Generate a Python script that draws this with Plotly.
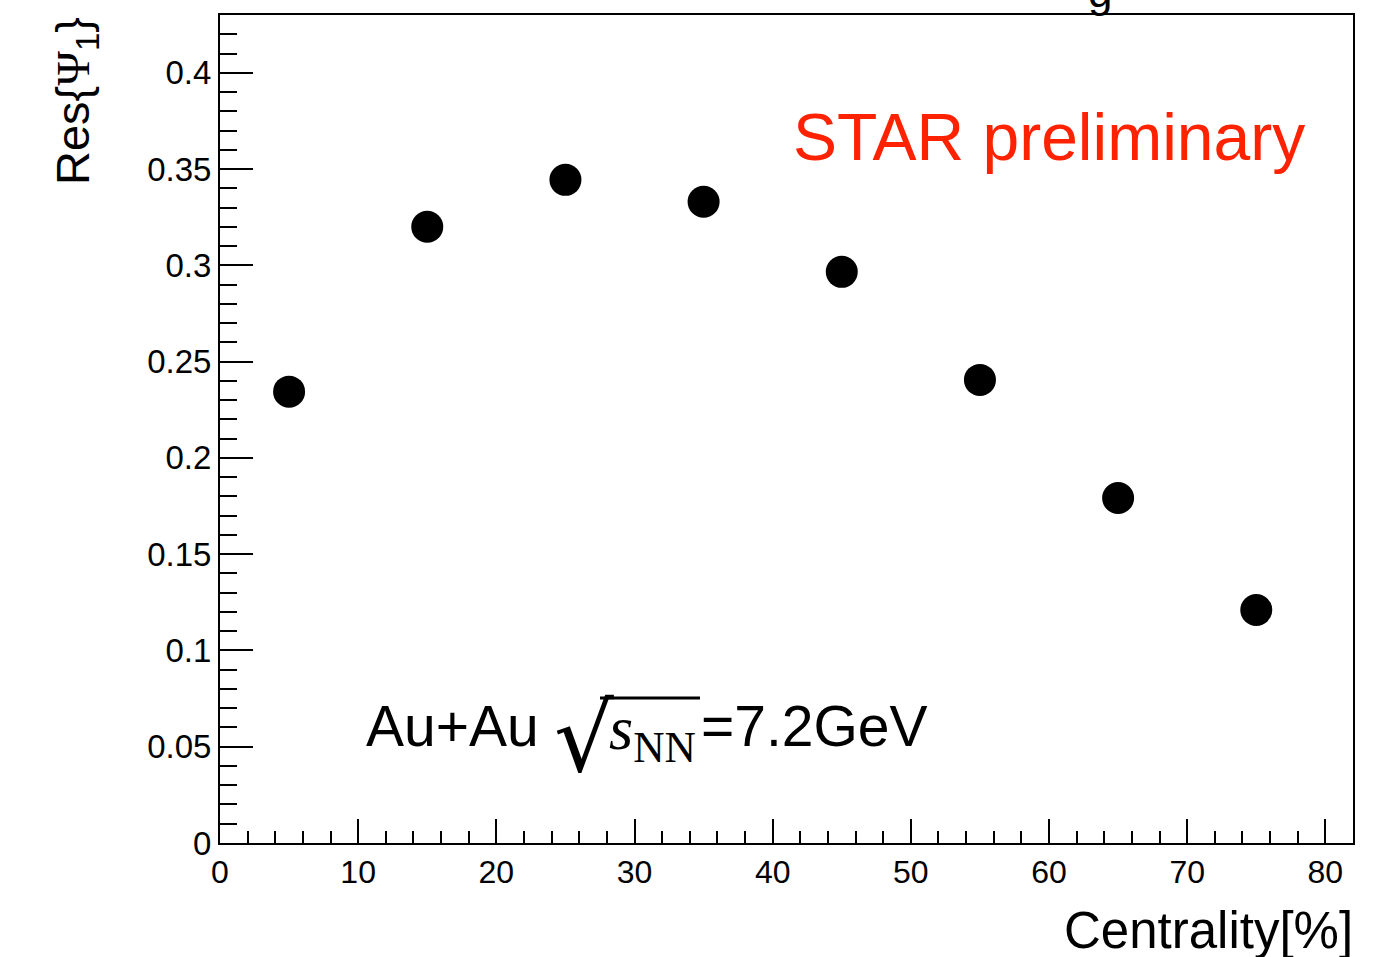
import plotly.graph_objects as go

centrality = [5, 15, 25, 35, 45, 55, 65, 75]
resolution = [0.2344, 0.3200, 0.3444, 0.3330, 0.2966, 0.2405, 0.1792, 0.1210]

W, H = 1384, 957
L, R, T, B = 220, 31, 15, 114
PW, PH = W - L - R, H - T - B

def px(x):
    return (x - L) / PW

def py(y):
    return (H - B - y) / PH

fig = go.Figure()
fig.add_trace(go.Scatter(
    x=centrality, y=resolution, mode="markers",
    marker=dict(color="black", size=32, line=dict(width=0)),
    showlegend=False, cliponaxis=False,
))

font = "Liberation Sans, Arial, Helvetica, sans-serif"
serif = "Liberation Serif, Times New Roman, serif"

fig.update_layout(
    width=W, height=H,
    margin=dict(l=L, r=R, t=T, b=B, pad=0),
    paper_bgcolor="white", plot_bgcolor="white",
    font=dict(family=font, color="black"),
    xaxis=dict(
        range=[0, 82], showgrid=False, zeroline=False,
        showline=True, linecolor="black", linewidth=2, mirror=True,
        ticks="inside", ticklen=24, tickwidth=2, tickcolor="black",
        dtick=10, tick0=0, tickfont=dict(size=32, family=font),
        minor=dict(ticks="inside", ticklen=12, tickwidth=2, tickcolor="black", dtick=2, tick0=0),
    ),
    yaxis=dict(
        range=[0, 0.43], showgrid=False, zeroline=False,
        showline=True, linecolor="black", linewidth=2, mirror=True,
        ticks="inside", ticklen=33, tickwidth=2, tickcolor="black",
        tickfont=dict(size=33, family=font),
        tickvals=[0, 0.05, 0.1, 0.15, 0.2, 0.25, 0.3, 0.35, 0.4],
        ticktext=["0", "0.05", "0.1", "0.15", "0.2", "0.25", "0.3", "0.35", "0.4"],
        minor=dict(ticks="inside", ticklen=17, tickwidth=2, tickcolor="black", dtick=0.01, tick0=0),
    ),
)

ann = []
# y-axis title
ann.append(dict(
    text="Res{<span style='font-family:Liberation Serif, serif'>Ψ</span><sub>1</sub>}",
    textangle=-90, x=px(76), y=1.0, xref="paper", yref="paper",
    xanchor="center", yanchor="top", showarrow=False,
    font=dict(size=47, family=font, color="black"),
))
# x-axis title
ann.append(dict(
    text="Centrality[%]", x=px(1355), y=py(930), xref="paper", yref="paper",
    xanchor="right", yanchor="middle", showarrow=False,
    font=dict(size=51, family=font, color="black"),
))
# STAR preliminary
ann.append(dict(
    text="STAR preliminary", x=px(1307), y=py(137), xref="paper", yref="paper",
    xanchor="right", yanchor="middle", showarrow=False,
    font=dict(size=66, family=font, color="#FF2200"),
))
# Au+Au label
ann.append(dict(
    text="Au+Au", x=px(364), y=py(726), xref="paper", yref="paper",
    xanchor="left", yanchor="middle", showarrow=False,
    font=dict(size=57, family=font, color="black"),
))
ann.append(dict(
    text="√", x=px(552), y=py(738), xref="paper", yref="paper",
    xanchor="left", yanchor="middle", showarrow=False,
    font=dict(size=94, family="DejaVu Sans, sans-serif", color="black"),
))
ann.append(dict(
    text="<i>s</i><sub>NN</sub>", x=px(607), y=py(732), xref="paper", yref="paper",
    xanchor="left", yanchor="middle", showarrow=False,
    font=dict(size=62, family=serif, color="black"),
))
ann.append(dict(
    text="=7.2GeV", x=px(699), y=py(726), xref="paper", yref="paper",
    xanchor="left", yanchor="middle", showarrow=False,
    font=dict(size=57, family=font, color="black"),
))
# partially clipped title letter at top (as in the reference)
ann.append(dict(
    text="g", x=px(1100), y=1 + 50 / PH, xref="paper", yref="paper",
    xanchor="center", yanchor="top", showarrow=False,
    font=dict(size=44, family=font, color="black"),
))
fig.update_layout(annotations=ann)

fig.add_shape(type="line", xref="paper", yref="paper",
              x0=px(600), x1=px(700), y0=py(698), y1=py(698),
              line=dict(color="black", width=3))

fig.write_html("out.html")
